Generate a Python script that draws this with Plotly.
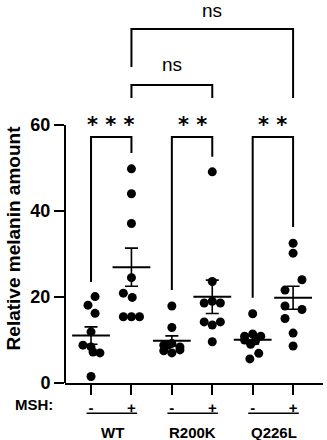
import numpy as np
import plotly.graph_objects as go

# ---- data ----
groups = ["WT", "R200K", "Q226L"]
msh_labels = ["-", "+", "-", "+", "-", "+"]

wt_minus = [20.1, 18.1, 16.2, 11.9, 8.8, 8.4, 7.2, 7.0, 1.5]
wt_plus = [49.8, 44.0, 37.1, 24.5, 20.9, 19.9, 15.4, 15.4, 15.4]
r200k_minus = [17.9, 12.9, 9.2, 8.8, 8.8, 8.4, 7.7, 7.5, 7.0]
r200k_plus = [49.1, 23.6, 18.6, 19.0, 18.6, 14.2, 13.5, 14.2, 9.6]
q226l_minus = [16.1, 11.4, 10.9, 10.9, 10.0, 9.8, 9.0, 6.9, 5.6]
q226l_plus = [32.5, 30.2, 24.0, 21.6, 17.9, 17.1, 15.0, 11.6, 8.6]

# horizontal scatter of the dots (category units)
wt_minus_jit = [0.1, -0.075, 0.1, 0.0, -0.2, 0.0, 0.05, 0.22, 0.0]
wt_plus_jit = [0.0, 0.0, 0.0, 0.0, -0.2, 0.02, -0.2, 0.0, 0.2]
r200k_minus_jit = [0.0, 0.0, 0.0, -0.2, -0.1, 0.2, 0.2, -0.2, 0.0]
r200k_plus_jit = [0.0, 0.0, -0.2, 0.0, 0.2, -0.2, 0.0, 0.2, 0.0]
q226l_minus_jit = [0.0, 0.0, -0.2, 0.2, -0.2, 0.07, -0.05, 0.15, -0.07]
q226l_plus_jit = [0.0, 0.0, 0.22, -0.2, -0.2, 0.22, -0.2, 0.0, 0.0]

series = [wt_minus, wt_plus, r200k_minus, r200k_plus, q226l_minus, q226l_plus]
jitters = [wt_minus_jit, wt_plus_jit, r200k_minus_jit, r200k_plus_jit,
           q226l_minus_jit, q226l_plus_jit]

# significance brackets: (x_left, x_right, top, left_bottom, right_bottom, label, label_y)
brackets = [
    (0, 1, 57.2, 23.5, 53.5, "* * *", 60.0),
    (2, 3, 57.2, 21.6, 52.6, "* *", 60.0),
    (4, 5, 57.2, 19.8, 36.3, "* *", 60.0),
    (1, 3, 69.3, 66.3, 66.3, "ns", 74.0),
    (1, 5, 82.3, 73.5, 66.3, "ns", 86.7),
]

FONT = "Liberation Sans"

fig = go.Figure()

for i, (vals, jit) in enumerate(zip(series, jitters)):
    xs = [i + j for j in jit]
    fig.add_trace(go.Scatter(
        x=xs, y=vals, mode="markers",
        marker=dict(size=9, color="black"),
        cliponaxis=False, showlegend=False, hoverinfo="y"))

for i, vals in enumerate(series):
    arr = np.array(vals)
    m = arr.mean()
    sem = arr.std(ddof=1) / np.sqrt(len(arr))
    fig.add_trace(go.Scatter(
        x=[i], y=[m], mode="markers",
        marker=dict(symbol="line-ew", size=27, line=dict(width=2, color="black")),
        error_y=dict(type="data", array=[sem], visible=True, color="black",
                     thickness=1.6, width=6.5),
        cliponaxis=False, showlegend=False, hoverinfo="y"))

shapes = []
annotations = []
for xl, xr, top, lb, rb, lab, ly in brackets:
    shapes.append(dict(type="path", xref="x", yref="y",
                       path=f"M {xl},{lb} L {xl},{top} L {xr},{top} L {xr},{rb}",
                       line=dict(color="black", width=2)))
    if lab.startswith("*"):
        annotations.append(dict(x=(xl + xr) / 2, y=ly, xref="x", yref="y", text=f"<b>{lab}</b>",
                                showarrow=False, xanchor="center", yanchor="middle",
                                font=dict(family="DejaVu Sans", size=21, color="black")))
    else:
        annotations.append(dict(x=(xl + xr) / 2, y=ly, xref="x", yref="y", text=lab,
                                showarrow=False, xanchor="center", yanchor="middle",
                                font=dict(family=FONT, size=19, color="black")))

# y-axis spine from 0 to 60 only
shapes.append(dict(type="line", xref="paper", yref="y", x0=0, x1=0, y0=0, y1=60,
                   line=dict(color="black", width=2)))

# group underlines and labels
for g, name in enumerate(groups):
    c = 2 * g + 0.5
    shapes.append(dict(type="line", xref="x", yref="paper", x0=c - 0.61, x1=c + 0.64,
                       y0=-0.079, y1=-0.079, line=dict(color="black", width=1.6)))
    annotations.append(dict(x=c + 0.02, y=-0.128, xref="x", yref="paper", text=f"<b>{name}</b>",
                            showarrow=False, xanchor="center", yanchor="middle",
                            font=dict(family=FONT, size=15, color="black")))

annotations.append(dict(x=-0.04, y=-0.057, xref="paper", yref="paper", text="<b>MSH:</b>",
                        xanchor="right", yanchor="middle", showarrow=False,
                        font=dict(family=FONT, size=15, color="black")))
annotations.append(dict(x=-0.198, y=0.38, xref="paper", yref="paper",
                        text="<b>Relative melanin amount</b>", textangle=-90,
                        xanchor="center", yanchor="middle",
                        showarrow=False, font=dict(family=FONT, size=19, color="black")))

fig.update_layout(
    width=327, height=440,
    margin=dict(l=65, r=4, t=0, b=57),
    plot_bgcolor="white", paper_bgcolor="white",
    shapes=shapes, annotations=annotations,
    xaxis=dict(range=[-0.644, 5.74], tickvals=list(range(6)), ticktext=[f"<b>{t}</b>" for t in msh_labels],
               showline=True, linecolor="black", linewidth=2, ticks="outside",
               ticklen=10, tickwidth=2, tickcolor="black", showgrid=False, zeroline=False,
               automargin=False, ticklabelstandoff=0,
               tickfont=dict(family=FONT, size=15, color="black")),
    yaxis=dict(range=[0, 89.07], tickvals=[0, 20, 40, 60], ticktext=["<b>0</b>", "<b>20</b>", "<b>40</b>", "<b>60</b>"],
               showline=False, ticks="outside", ticklen=10, tickwidth=2, tickcolor="black",
               showgrid=False, zeroline=False, automargin=False,
               tickfont=dict(family=FONT, size=18, color="black")),
)

fig.write_html("out.html", config={"displayModeBar": False},
               post_script="document.body.style.margin='0px';")
